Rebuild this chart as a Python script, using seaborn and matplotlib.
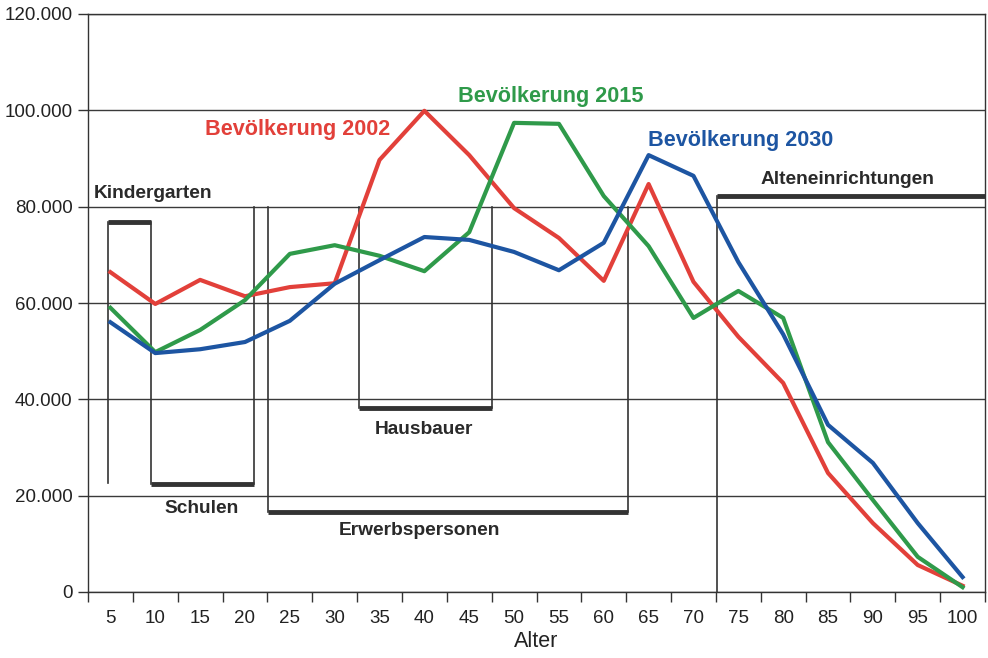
import matplotlib
matplotlib.use("Agg")
import matplotlib.pyplot as plt
import matplotlib.ticker as mticker
import seaborn as sns
import pandas as pd
import numpy as np

ages = [5, 10, 15, 20, 25, 30, 35, 40, 45, 50, 55, 60, 65, 70, 75, 80, 85, 90, 95, 100]
bev_2002 = [66.4, 59.8, 64.8, 61.4, 63.3, 64.1, 89.7, 99.9, 90.7, 79.7, 73.5, 64.6, 84.7, 64.4, 53.0, 43.4, 24.7, 14.3, 5.6, 1.3]
bev_2015 = [59.0, 49.8, 54.4, 60.6, 70.2, 72.0, 69.8, 66.6, 74.7, 97.4, 97.2, 82.2, 71.8, 56.9, 62.5, 56.9, 31.1, 19.1, 7.3, 1.0]
bev_2030 = [56.0, 49.6, 50.4, 51.9, 56.3, 64.0, 68.9, 73.7, 73.1, 70.6, 66.8, 72.5, 90.7, 86.4, 68.5, 53.5, 34.7, 26.8, 14.3, 3.1]
series_names = ["Bevölkerung 2002", "Bevölkerung 2015", "Bevölkerung 2030"]
colors = ["#E2403A", "#2F9A4A", "#1D55A2"]

bracket_labels = ["Kindergarten", "Schulen", "Hausbauer", "Erwerbspersonen", "Alteneinrichtungen"]

df = pd.DataFrame({
    "idx": list(range(len(ages))) * 3,
    "value": [v * 1000 for v in bev_2002 + bev_2015 + bev_2030],
    "series": sum([[s] * len(ages) for s in series_names], []),
})

fig = plt.figure(figsize=(9.88, 6.58), dpi=100)
ax = fig.add_axes([88 / 988, 1 - 592 / 658, (985 - 88) / 988, (592 - 14) / 658])

sns.lineplot(data=df, x="idx", y="value", hue="series", palette=colors,
             linewidth=3.0, ax=ax, legend=False, zorder=5)

ax.set_xlim(-0.5, len(ages) - 0.5)
ax.set_ylim(0, 120000)
ax.set_yticks(np.arange(0, 120001, 20000))
ax.yaxis.set_major_formatter(mticker.FuncFormatter(lambda v, p: "0" if v == 0 else f"{int(v):,}".replace(",", ".")))
ax.grid(axis="y", color="#3a3a3a", linewidth=1.0, zorder=0)
ax.set_axisbelow(True)

ax.set_xticks(np.arange(-0.5, len(ages), 1.0))
ax.set_xticklabels([])
ax.set_xticks(np.arange(len(ages)), minor=True)
ax.set_xticklabels([str(a) for a in ages], minor=True)
ax.tick_params(axis="x", which="major", length=7, width=1.0, color="#333333")
ax.tick_params(axis="x", which="minor", length=0, labelsize=13.5, pad=13, labelcolor="#222222")
ax.tick_params(axis="y", length=7, width=1.0, color="#333333", labelsize=13.5, pad=4, labelcolor="#222222")
ax.set_xlabel("Alter", fontsize=15.5, color="#222222", labelpad=3)
ax.set_ylabel("")
for sp in ax.spines.values():
    sp.set_color("#333333")
    sp.set_linewidth(1.0)

thin = dict(color="#333333", linewidth=1.2, zorder=3)
thick = dict(color="#333333", linewidth=3.5, zorder=3, solid_capstyle="butt")

def px2i(x):
    return (x - 110) / 44.85

# Kindergarten
kx0, kx1 = px2i(108), px2i(151)
ax.plot([kx0, kx0], [22600, 76800], **thin)
ax.plot([kx0, kx1], [76800, 76800], **thick)
ax.plot([kx1, kx1], [22400, 76800], **thin)
# Schulen
sx0, sx1 = px2i(151), px2i(254)
ax.plot([sx0, sx1], [22400, 22400], **thick)
ax.plot([sx1, sx1], [22400, 80000], **thin)
# Erwerbspersonen
ex0, ex1 = px2i(268), px2i(628)
ax.plot([ex0, ex0], [16600, 80000], **thin)
ax.plot([ex0, ex1], [16600, 16600], **thick)
ax.plot([ex1, ex1], [16600, 80000], **thin)
# Hausbauer
hx0, hx1 = px2i(359), px2i(492)
ax.plot([hx0, hx0], [38200, 80000], **thin)
ax.plot([hx0, hx1], [38200, 38200], **thick)
ax.plot([hx1, hx1], [38200, 80000], **thin)
# Alteneinrichtungen
ax0_ = px2i(717)
ax.plot([ax0_, ax0_], [0, 82200], **thin)
ax.plot([ax0_, len(ages) - 0.5], [82200, 82200], **thick)

lab = dict(fontsize=13.8, fontweight="bold", color="#2a2a2a", family="Liberation Sans", zorder=6)
ax.text(px2i(93), 82800, bracket_labels[0], ha="left", va="center", **lab)
ax.text(px2i(201), 17400, bracket_labels[1], ha="center", va="center", **lab)
ax.text(px2i(424), 33800, bracket_labels[2], ha="center", va="center", **lab)
ax.text(px2i(419), 12700, bracket_labels[3], ha="center", va="center", **lab)
ax.text(px2i(847), 85700, bracket_labels[4], ha="center", va="center", **lab)

slab = dict(fontsize=15.6, fontweight="bold", family="Liberation Sans", zorder=6)
ax.text(px2i(297), 96000, series_names[0], ha="center", va="center", color=colors[0], **slab)
ax.text(px2i(550), 102800, series_names[1], ha="center", va="center", color=colors[1], **slab)
ax.text(px2i(740), 93800, series_names[2], ha="center", va="center", color=colors[2], **slab)

for t in ax.get_yticklabels() + ax.get_xticklabels(minor=True):
    t.set_family("Liberation Sans")
ax.xaxis.label.set_family("Liberation Sans")

fig.savefig("out.png", dpi=100)
